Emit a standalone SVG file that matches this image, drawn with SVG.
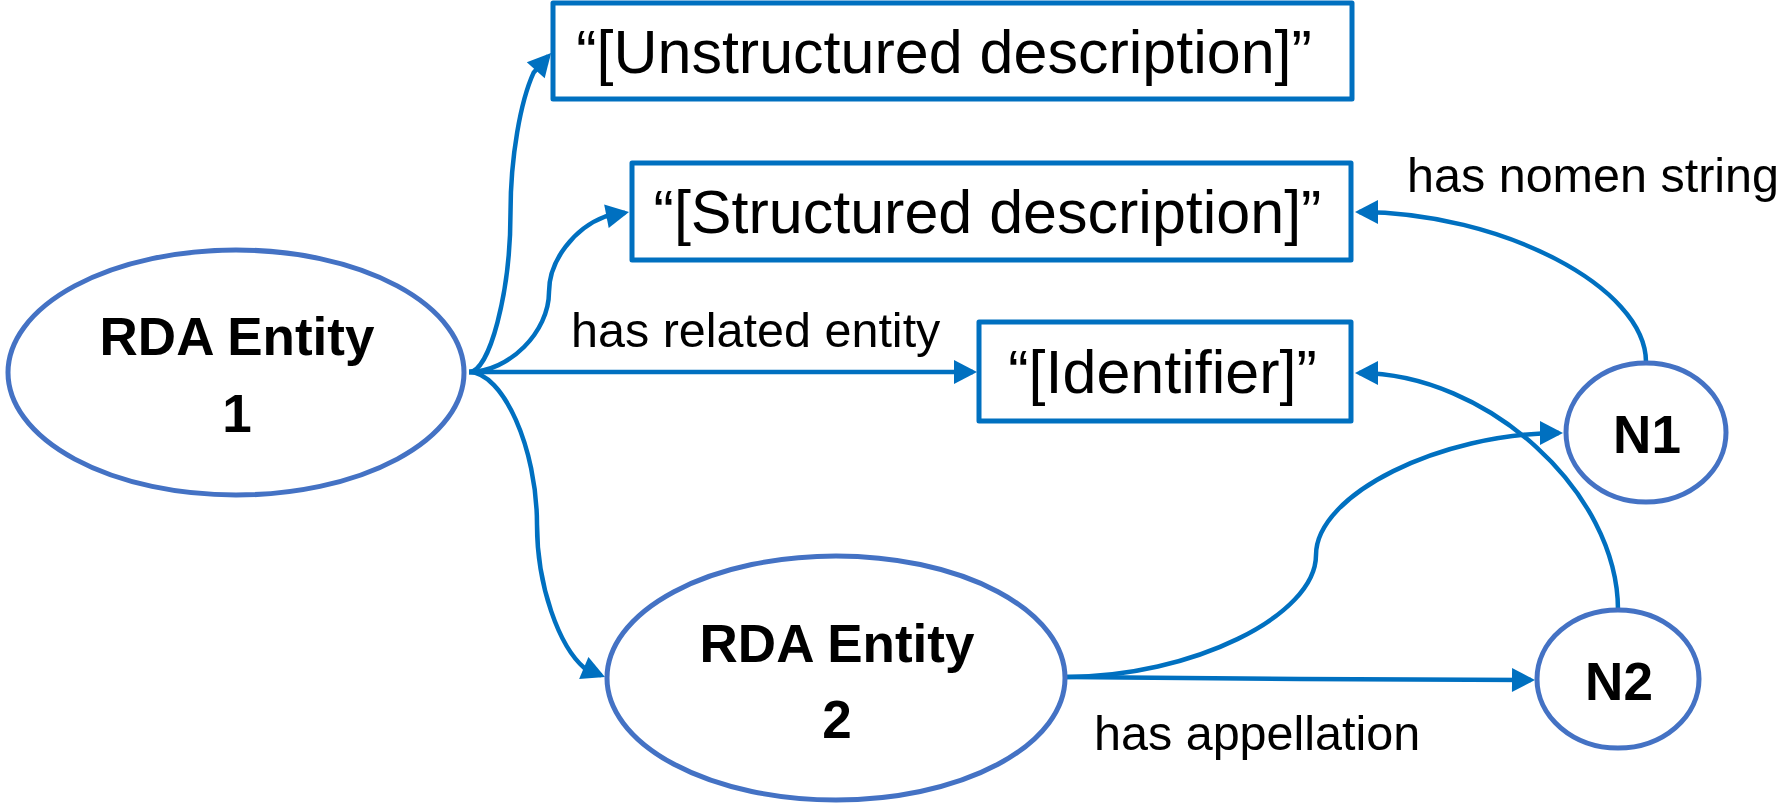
<svg xmlns="http://www.w3.org/2000/svg" width="1781" height="808" viewBox="0 0 1781 808">
  <style>
    .ell { fill: #FFFFFF; stroke: #4472C4; stroke-width: 5; }
    .box { fill: #FFFFFF; stroke: #0070C0; stroke-width: 5; stroke-linejoin: round; }
    .con { fill: none; stroke: #0070C0; stroke-width: 4.5; }
    .bold { font-family: "Liberation Sans", Arial, sans-serif; font-weight: bold; font-size: 53px; fill: #000000; text-anchor: middle; }
    .boxtxt { font-family: "Liberation Sans", Arial, sans-serif; font-size: 61px; fill: #000000; text-anchor: middle; }
    .lbl { font-family: "Liberation Sans", Arial, sans-serif; font-size: 48.5px; fill: #000000; }
  </style>
  <defs>
    <marker id="arrow" markerUnits="userSpaceOnUse" markerWidth="23" markerHeight="24" refX="19" refY="12" orient="auto" overflow="visible">
      <path d="M0,0 L23,12 L0,24 Z" fill="#0070C0"/>
    </marker>
  </defs>

  <g id="connectors">
    <path id="c-unstructured" class="con" marker-end="url(#arrow)" d="M469,372 C489.75,372 510.5,292 510.5,212.5 C510.5,156.85 520.55,100.95 533.75,72.4 L548.4,56"/>
    <path id="c-structured" class="con" marker-end="url(#arrow)" d="M469,372 C509,372 549,332 549,292 C549,260 574.6,228 605.3,216.5 L625.1,212.7"/>
    <path id="c-identifier" class="con" marker-end="url(#arrow)" d="M469,372 L973,372"/>
    <path id="c-entity2" class="con" marker-end="url(#arrow)" d="M469,372 C503,372 537,448.25 537,524.5 C537,585.5 558.8,646.5 584.9,668.5 L601.3,675.4"/>
    <path id="c-n1" class="con" marker-end="url(#arrow)" d="M1066,677 C1191,677 1316,616 1316,555 C1316,494 1441,433 1559,433"/>
    <path id="c-n2" class="con" marker-end="url(#arrow)" d="M1066,677 L1300,679 L1531,680"/>
    <path id="c-nomen" class="con" marker-end="url(#arrow)" d="M1646,362 C1646,287 1500.5,212 1359,212"/>
    <path id="c-ident2" class="con" marker-end="url(#arrow)" d="M1618,610 C1618,491.5 1486.5,373 1359,373"/>
    <text class="lbl" x="571" y="347">has related entity</text>
    <text class="lbl" x="1407" y="192">has nomen string</text>
    <text class="lbl" x="1094" y="750">has appellation</text>
  </g>

  <g id="node-entity1">
    <ellipse class="ell" cx="236" cy="372.5" rx="228" ry="122.5"/>
    <text class="bold" x="237" y="355">RDA Entity</text>
    <text class="bold" x="237" y="432">1</text>
  </g>

  <g id="node-entity2">
    <ellipse class="ell" cx="836" cy="678" rx="229" ry="122"/>
    <text class="bold" x="837" y="662">RDA Entity</text>
    <text class="bold" x="837" y="738">2</text>
  </g>

  <g id="node-unstructured">
    <rect class="box" x="553" y="3" width="799" height="96"/>
    <text class="boxtxt" x="944" y="73">“[Unstructured description]”</text>
  </g>

  <g id="node-structured">
    <rect class="box" x="632" y="163" width="719" height="97"/>
    <text class="boxtxt" x="987.5" y="233">“[Structured description]”</text>
  </g>

  <g id="node-identifier">
    <rect class="box" x="979" y="322" width="372" height="99"/>
    <text class="boxtxt" x="1162.5" y="393">“[Identifier]”</text>
  </g>

  <g id="node-n1">
    <ellipse class="ell" cx="1646" cy="432.5" rx="80" ry="69.5"/>
    <text class="bold" x="1647" y="453">N1</text>
  </g>

  <g id="node-n2">
    <ellipse class="ell" cx="1618" cy="679" rx="81" ry="69"/>
    <text class="bold" x="1619" y="700">N2</text>
  </g>
</svg>
